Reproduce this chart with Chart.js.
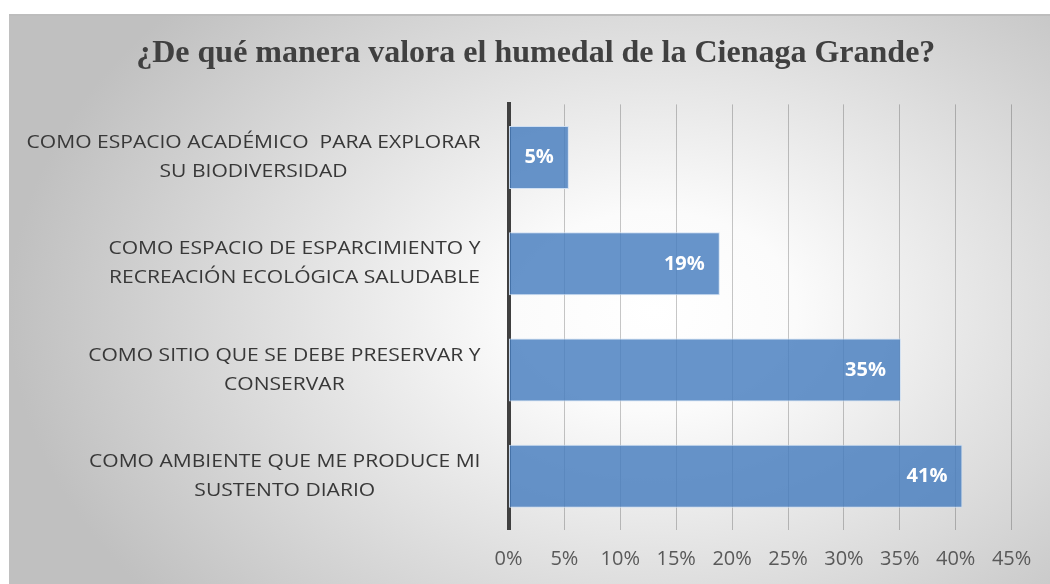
<!DOCTYPE html>
<html><head><meta charset="utf-8">
<script src="https://cdn.jsdelivr.net/npm/chart.js@4/dist/chart.umd.min.js"></script>
<style>
html,body{margin:0;padding:0;width:1050px;height:584px;overflow:hidden;background:#fff;}
#bg{position:absolute;left:9px;top:14px;width:1041px;height:570px;box-sizing:border-box;border-top:2px solid #bdbdbd;
background:radial-gradient(ellipse 62% 80% at 62% 52%, #ffffff 0%, #fbfbfb 22%, #c0c0c0 100%);}
#wrap{position:absolute;left:0;top:0;width:1050px;height:584px;}
</style></head><body>
<div id="bg"></div>
<div id="wrap"><canvas id="c" width="1050" height="584"></canvas></div>
<script>
const chartTitle = '¿De qué manera valora el humedal de la Cienaga Grande?';
const categories = [
  ['COMO ESPACIO ACADÉMICO  PARA EXPLORAR', 'SU BIODIVERSIDAD'],
  ['COMO ESPACIO DE ESPARCIMIENTO Y', 'RECREACIÓN ECOLÓGICA SALUDABLE'],
  ['COMO SITIO QUE SE DEBE PRESERVAR Y', 'CONSERVAR'],
  ['COMO AMBIENTE QUE ME PRODUCE MI', 'SUSTENTO DIARIO']
];
const values = [5.4, 18.9, 35.1, 40.6];
const xMin = 0, xMax = 45, xStep = 5;

const catLabelPlugin = {
  id: 'catLabels',
  afterDraw(chart) {
    const ys = chart.scales.y, ctx = chart.ctx, area = chart.chartArea;
    ctx.save();
    ctx.font = '18px "Open Sans"';
    ctx.fillStyle = '#383838';
    ctx.textAlign = 'center';
    ctx.textBaseline = 'middle';
    const sx = 1.17, gap = 28, lh = 29;
    categories.forEach((lines, i) => {
      const y = ys.getPixelForTick(i);
      const w = Math.max(...lines.map(l => ctx.measureText(l).width)) * sx;
      const cx = area.left - gap - w / 2;
      lines.forEach((l, j) => {
        const ly = y + (j - (lines.length - 1) / 2) * lh;
        ctx.save();
        ctx.translate(cx, ly);
        ctx.scale(sx, 1);
        ctx.fillText(l, 0, 0);
        ctx.restore();
      });
    });
    ctx.restore();
  }
};

const dataLabelPlugin = {
  id: 'dataLabels',
  afterDatasetsDraw(chart) {
    const ctx = chart.ctx;
    const meta = chart.getDatasetMeta(0);
    ctx.save();
    ctx.font = 'bold 20px "Open Sans"';
    ctx.fillStyle = '#ffffff';
    ctx.textAlign = 'right';
    ctx.textBaseline = 'middle';
    meta.data.forEach((el, i) => {
      ctx.fillText(Math.round(values[i]) + '%', el.x - 15, el.y);
    });
    ctx.restore();
  }
};

new Chart(document.getElementById('c'), {
  type: 'bar',
  data: {
    labels: categories,
    datasets: [{
      data: values,
      backgroundColor: 'rgba(70,125,190,0.82)',
      borderColor: 'rgba(205,222,242,0.95)',
      borderWidth: 1,
      borderSkipped: false,
      barPercentage: 0.593,
      categoryPercentage: 1
    }]
  },
  options: {
    indexAxis: 'y',
    responsive: false,
    animation: false,
    devicePixelRatio: 1,
    layout: { padding: { left: 60, right: 38.4, top: 0, bottom: 12.5 } },
    plugins: {
      legend: { display: false },
      tooltip: { enabled: false },
      title: {
        display: true,
        text: chartTitle,
        color: '#404040',
        font: { family: '"Liberation Serif", "Times New Roman", serif', size: 32, weight: 'bold', lineHeight: 1.2 },
        padding: { top: 35, bottom: 31 }
      }
    },
    scales: {
      x: {
        min: xMin, max: xMax,
        ticks: {
          stepSize: xStep,
          padding: 18,
          maxRotation: 0,
          minRotation: 0,
          autoSkip: false,
          color: '#595959',
          font: { family: '"Open Sans"', size: 20, lineHeight: 1.2 },
          callback: v => v + '%'
        },
        grid: { color: 'rgba(0,0,0,0.22)', lineWidth: 1, drawTicks: false },
        border: { display: false },
        afterFit: s => { s.height = 42; }
      },
      y: {
        ticks: { display: false },
        grid: { display: false, drawTicks: false },
        border: { display: true, color: '#404040', width: 4 },
        afterFit: s => { s.width = 448.5; }
      }
    }
  },
  plugins: [catLabelPlugin, dataLabelPlugin]
});
</script>
</body></html>
